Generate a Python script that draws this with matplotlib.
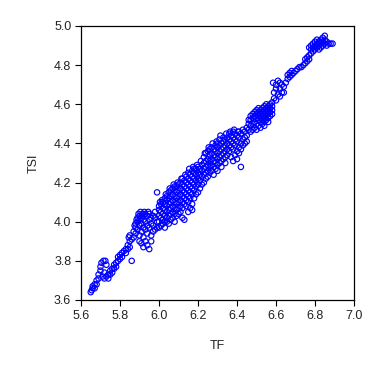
import matplotlib
matplotlib.use("Agg")
import matplotlib.pyplot as plt

plt.rcParams['font.family'] = ['Liberation Sans', 'DejaVu Sans']

# Sparse parts: explicit (TF, TSI) pairs
tail_pts = [(5.65,3.64),(5.655,3.65),(5.66,3.66),(5.66,3.67),(5.67,3.66),(5.67,3.68),(5.68,3.68),(5.68,3.70),
            (5.69,3.71),(5.69,3.73),(5.70,3.75),(5.70,3.77),(5.705,3.79),(5.715,3.80),(5.725,3.80),(5.73,3.78),
            (5.72,3.74),(5.71,3.72),(5.72,3.71),(5.73,3.72),(5.74,3.73),(5.74,3.71),(5.75,3.73),(5.75,3.75),
            (5.76,3.74),(5.76,3.76),(5.77,3.76),(5.77,3.78),(5.78,3.77),(5.78,3.79),(5.79,3.80),(5.79,3.82),
            (5.80,3.81),(5.80,3.83),(5.81,3.84),(5.81,3.82),(5.82,3.85),(5.83,3.84),(5.83,3.86),(5.84,3.88),
            (5.84,3.86),(5.85,3.87),(5.86,3.80),(5.845,3.92),(5.85,3.93),(5.85,3.90),(5.99,4.15),(6.42,4.28),
            (5.875,3.98),(5.885,4.01),(5.895,4.04),(5.905,4.05),(5.915,4.04),(5.925,4.05),(5.945,4.05),
            (6.005,4.10),(6.015,4.11),(6.035,4.14),(6.055,4.17),(6.075,4.19),(6.095,4.20),(6.115,4.22),
            (6.135,4.24),(6.155,4.27),(6.175,4.28),(6.195,4.29),(6.215,4.31),(6.235,4.35),(6.255,4.38),
            (6.275,4.40),(6.295,4.41),(6.315,4.44),(6.345,4.45),(6.365,4.46),(6.385,4.47),(6.405,4.46)]

upper_pts = [(6.58,4.61),(6.59,4.63),(6.60,4.62),(6.59,4.66),(6.60,4.68),(6.585,4.71),(6.60,4.70),(6.61,4.72),
             (6.62,4.71),(6.62,4.68),(6.63,4.70),(6.64,4.66),(6.64,4.69),(6.61,4.65),(6.62,4.64),(6.63,4.66),
             (6.65,4.71),(6.66,4.73),(6.66,4.75),(6.67,4.74),(6.67,4.76),(6.68,4.75),(6.68,4.77),(6.69,4.76),
             (6.70,4.77),(6.71,4.78),(6.72,4.79),(6.73,4.79),(6.74,4.80),(6.75,4.81),(6.75,4.83),(6.76,4.82),
             (6.76,4.84),(6.77,4.83),(6.77,4.85),
             (6.78,4.86),(6.78,4.88),(6.79,4.87),(6.79,4.89),(6.79,4.91),(6.80,4.88),(6.80,4.90),(6.80,4.92),
             (6.81,4.89),(6.81,4.91),(6.81,4.93),(6.82,4.90),(6.82,4.92),(6.82,4.88),(6.83,4.91),(6.83,4.93),
             (6.83,4.89),(6.84,4.92),(6.84,4.94),(6.84,4.90),(6.85,4.93),(6.85,4.95),(6.85,4.91),(6.86,4.92),
             (6.86,4.90),(6.87,4.91),(6.88,4.91),(6.89,4.91),(6.77,4.89),(6.78,4.90)]

# Dense parts: TF column values and the TSI values seen at each
dense_tf = [5.86,5.87,5.88,5.89,5.90,5.91,5.92,5.93,5.94,5.95,5.96,5.97,5.98,5.99,
            6.00,6.01,6.02,6.03,6.04,6.05,6.06,6.07,6.08,6.09,6.10,6.11,6.12,6.13,6.14,6.15,
            6.16,6.17,6.18,6.19,6.20,6.21,6.22,6.23,6.24,6.25,6.26,6.27,6.28,6.29,6.30,
            6.31,6.32,6.33,6.34,6.35,6.36,6.37,6.38,6.39,6.40,6.41,6.42,6.43,6.44,6.45,
            6.46,6.47,6.48,6.49,6.50,6.51,6.52,6.53,6.54,6.55,6.56,6.57,6.58]
dense_tsi = [[3.91],[3.92,3.95],[3.94,3.97,3.99],[3.96,4.00,4.02],[3.98,4.01,4.03,3.93,3.90],
             [4.02,3.99,3.95,3.89],[4.03,4.01,3.97,3.92,3.87],[4.04,4.00,3.96,3.90],[4.03,3.98,3.94,3.88],
             [4.04,4.01,3.97,3.86],[4.02,3.99,3.93,3.90],[4.03,3.98,3.95],[4.02,3.96,4.05],[4.00,3.97],
             [3.97,4.00,4.03,4.06,4.08],[3.98,4.02,4.05,4.09],[3.99,4.01,4.04,4.07,4.10],
             [3.97,4.00,4.03,4.06,4.09,4.12],[4.00,4.02,4.05,4.08,4.11,4.13],[3.99,4.03,4.06,4.09,4.12,4.15],
             [4.01,4.04,4.07,4.10,4.13,4.16],[4.02,4.05,4.08,4.11,4.14,4.17],[4.00,4.04,4.07,4.10,4.13,4.16,4.18],
             [4.03,4.06,4.09,4.12,4.15,4.18],[4.04,4.07,4.10,4.13,4.16,4.19],[4.05,4.08,4.11,4.14,4.17,4.20],
             [4.02,4.07,4.10,4.13,4.16,4.19,4.22],[4.01,4.09,4.12,4.15,4.18,4.21],[4.08,4.11,4.14,4.17,4.20,4.23],
             [4.05,4.10,4.13,4.16,4.19,4.22,4.25],[4.07,4.12,4.15,4.18,4.21,4.24],
             [4.06,4.09,4.14,4.17,4.20,4.23,4.26],[4.12,4.16,4.19,4.22,4.25,4.27],[4.14,4.18,4.21,4.24,4.27],
             [4.15,4.19,4.22,4.25,4.28],[4.17,4.21,4.24,4.27],[4.19,4.23,4.26,4.29],[4.20,4.24,4.27,4.30,4.33],
             [4.22,4.25,4.28,4.31,4.35],[4.23,4.26,4.29,4.32,4.36],[4.25,4.28,4.31,4.34,4.37],
             [4.26,4.29,4.32,4.35,4.38],[4.24,4.28,4.31,4.34,4.37],[4.27,4.30,4.33,4.36,4.39],
             [4.26,4.29,4.32,4.35,4.38,4.40],[4.30,4.33,4.36,4.39,4.42],[4.28,4.31,4.34,4.37,4.40],
             [4.32,4.35,4.38,4.41,4.43],[4.30,4.33,4.36,4.39,4.42],[4.34,4.37,4.40,4.43],[4.36,4.39,4.42,4.45],
             [4.33,4.38,4.41,4.44],[4.31,4.37,4.40,4.43,4.46],[4.34,4.39,4.42,4.45],[4.32,4.36,4.41,4.44],
             [4.35,4.38,4.43,4.46],[4.37,4.40,4.45],[4.39,4.42,4.47],[4.40,4.43,4.46],[4.41,4.44,4.48],
             [4.47,4.50,4.52],[4.46,4.49,4.52,4.54],[4.47,4.50,4.53,4.55],[4.48,4.51,4.54,4.56],
             [4.47,4.50,4.53,4.55,4.57],[4.49,4.52,4.54,4.56,4.58],[4.48,4.51,4.53,4.55,4.57],
             [4.50,4.52,4.54,4.56,4.58],[4.49,4.51,4.53,4.55,4.57,4.59],[4.52,4.54,4.56,4.58,4.60],
             [4.51,4.53,4.55,4.57,4.59],[4.54,4.56,4.58,4.60],[4.55,4.57,4.59]]

x_ticks = [5.6, 5.8, 6.0, 6.2, 6.4, 6.6, 6.8, 7.0]
y_ticks = [3.6, 3.8, 4.0, 4.2, 4.4, 4.6, 4.8, 5.0]

tf = [p[0] for p in tail_pts]
tsi = [p[1] for p in tail_pts]
for xv, ys in zip(dense_tf, dense_tsi):
    for yv in ys:
        tf.append(xv)
        tsi.append(yv)
tf += [p[0] for p in upper_pts]
tsi += [p[1] for p in upper_pts]

fig = plt.figure(figsize=(3.84, 3.74), dpi=100)
ax = fig.add_axes([81/384, 1 - 300/374, 273/384, 274/374])
ax.scatter(tf, tsi, s=15, facecolors='none', edgecolors='#0000ff', linewidths=0.85)
ax.set_xlim(5.6, 7.0)
ax.set_ylim(3.6, 5.0)
ax.set_xticks(x_ticks)
ax.set_yticks(y_ticks)
ax.set_xticklabels([f"{v:.1f}" for v in x_ticks])
ax.set_yticklabels([f"{v:.1f}" for v in y_ticks])
ax.tick_params(direction='out', length=4, width=0.8, labelsize=9, labelcolor='#222222',
               top=False, right=False, pad=3)
for sp in ax.spines.values():
    sp.set_linewidth(0.9)
ax.set_xlabel("TF", fontsize=9, labelpad=13, color='#222222')
ax.set_ylabel("TSI", fontsize=9, labelpad=10, color='#222222')
fig.savefig("out.png", dpi=100)
